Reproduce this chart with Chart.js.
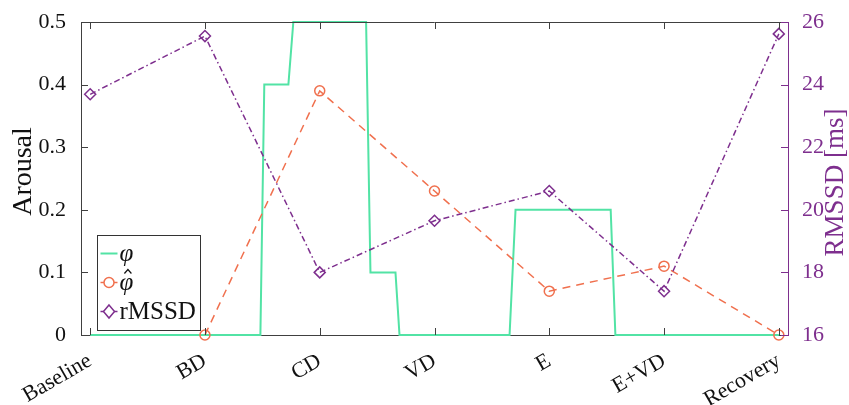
<!DOCTYPE html>
<html><head><meta charset="utf-8">
<script src="https://cdn.jsdelivr.net/npm/chart.js@4/dist/chart.umd.min.js"></script>
<style>html,body{margin:0;padding:0;background:#fff}#wrap{width:849px;height:405px;position:relative}</style>
</head><body><div id="wrap"><canvas id="c"></canvas></div>
<script>
// ---- data ----
const categories = ['Baseline','BD','CD','VD','E','E+VD','Recovery'];
// phi: step signal (x in category units)
const phiX = [0, 1.483, 1.517, 1.727, 1.77, 2.404, 2.442, 2.66, 2.695, 3.654, 3.706, 4.535, 4.576, 6];
const phiY = [0, 0, 0.4, 0.4, 0.5, 0.5, 0.1, 0.1, 0, 0, 0.2, 0.2, 0, 0];
// phi-hat per category (none at Baseline)
const phiHat = [null, 0, 0.39, 0.23, 0.07, 0.11, 0];
// rMSSD per category [ms]
const rmssd = [23.69, 25.55, 18.0, 19.65, 20.6, 17.4, 25.62];
const arousalTicks = [0, 0.1, 0.2, 0.3, 0.4, 0.5];
const rmssdTicks = [16, 18, 20, 22, 24, 26];

const GREEN = '#52e3a5', ORANGE = '#f0704e', PURPLE = '#7e2f8e', AX = '#404040';
const FONT = "'Liberation Serif', serif";
Chart.defaults.font.family = FONT;

const phiData = phiX.map((x, i) => ({x: x, y: phiY[i]}));
const hatData = phiHat.map((v, i) => ({x: i, y: v}));
const rmData = rmssd.map((v, i) => ({x: i, y: v}));

const framePlugin = {
  id: 'frame',
  afterDatasetsDraw(chart) {
    const ctx = chart.ctx, ca = chart.chartArea;
    const xs = chart.scales.x, ys = chart.scales.y, yr = chart.scales.y1;
    ctx.save();
    ctx.lineWidth = 1;
    ctx.strokeStyle = AX;
    ctx.beginPath();
    ctx.moveTo(ca.left, Math.round(ca.top) + 0.5);
    ctx.lineTo(ca.right, Math.round(ca.top) + 0.5);
    categories.forEach((c, i) => {
      const px = Math.round(xs.getPixelForValue(i)) + 0.5;
      ctx.moveTo(px, ca.bottom); ctx.lineTo(px, ca.bottom - 7);
      ctx.moveTo(px, ca.top); ctx.lineTo(px, ca.top + 7);
    });
    arousalTicks.forEach(v => {
      const py = Math.round(ys.getPixelForValue(v)) + 0.5;
      ctx.moveTo(ca.left, py); ctx.lineTo(ca.left + 7, py);
    });
    ctx.stroke();
    ctx.strokeStyle = PURPLE;
    ctx.beginPath();
    rmssdTicks.forEach(v => {
      const py = Math.round(yr.getPixelForValue(v)) + 0.5;
      ctx.moveTo(ca.right, py); ctx.lineTo(ca.right - 7, py);
    });
    ctx.stroke();
    ctx.restore();
  },
  afterDraw(chart) {
    const ctx = chart.ctx, ca = chart.chartArea;
    ctx.save();
    // axis titles
    const midY = (ca.top + ca.bottom) / 2;
    ctx.textAlign = 'center'; ctx.textBaseline = 'middle';
    ctx.fillStyle = '#111';
    ctx.font = '28px ' + FONT;
    ctx.translate(24, midY - 7); ctx.rotate(-Math.PI / 2);
    ctx.fillText('Arousal', 0, 0);
    ctx.setTransform(1, 0, 0, 1, 0, 0);
    ctx.fillStyle = PURPLE;
    ctx.font = '27px ' + FONT;
    ctx.translate(836, midY + 4); ctx.rotate(-Math.PI / 2);
    ctx.fillText('RMSSD [ms]', 0, 0);
    ctx.setTransform(1, 0, 0, 1, 0, 0);
    // legend
    const bx = Math.round(ca.left) + 16.5, bw = 103, bh = 95;
    const by = Math.round(ca.bottom) - 4.5 - bh;
    ctx.fillStyle = '#fff';
    ctx.fillRect(bx, by, bw, bh);
    ctx.strokeStyle = '#333'; ctx.lineWidth = 1;
    ctx.strokeRect(bx, by, bw, bh);
    chart.data.datasets.forEach((ds, i) => {
      const ry = by + 18 + i * 29;
      const x0 = bx + 3, x1 = bx + 20, xm = (x0 + x1) / 2;
      ctx.strokeStyle = ds.borderColor;
      ctx.lineWidth = ds.borderWidth;
      ctx.setLineDash([]);
      ctx.beginPath(); ctx.moveTo(x0, ry); ctx.lineTo(x1, ry); ctx.stroke();
      if (ds.pointRadius > 0) {
        ctx.fillStyle = '#fff';
        ctx.lineWidth = 1.5;
        ctx.beginPath();
        const r = ds.pointRadius;
        if (ds.pointStyle === 'circle') {
          ctx.arc(xm, ry, r, 0, Math.PI * 2);
        } else {
          ctx.moveTo(xm, ry - r - 1); ctx.lineTo(xm + r, ry); ctx.lineTo(xm, ry + r + 1); ctx.lineTo(xm - r, ry); ctx.closePath();
        }
        ctx.fill(); ctx.stroke();
      }
      ctx.fillStyle = '#111';
      ctx.textAlign = 'left'; ctx.textBaseline = 'middle';
      const hat = ds.label.endsWith('\u0302');
      const txt = hat ? ds.label.slice(0, -1) : ds.label;
      ctx.font = (i < 2 ? 'italic ' : '') + '25px ' + FONT;
      const tx = x1 + 2;
      ctx.fillText(txt, tx, ry + 1);
      if (hat) {
        const w = ctx.measureText(txt).width;
        const cx = tx + w / 2 + 1.5;
        ctx.strokeStyle = '#111'; ctx.lineWidth = 1.2;
        ctx.beginPath();
        ctx.moveTo(cx - 3.5, ry - 9); ctx.lineTo(cx, ry - 13); ctx.lineTo(cx + 3.5, ry - 9);
        ctx.stroke();
      }
    });
    ctx.restore();
  }
};

new Chart(document.getElementById('c'), {
  type: 'line',
  data: {
    datasets: [
      {label: 'φ', data: phiData, borderColor: GREEN, backgroundColor: GREEN, borderWidth: 2, pointRadius: 0, yAxisID: 'y', order: 3, clip: false},
      {label: 'φ\u0302', data: hatData, borderColor: ORANGE, backgroundColor: 'rgba(0,0,0,0)', borderWidth: 1.5,
       borderDash: [8, 6], pointStyle: 'circle', pointRadius: 5, pointBorderWidth: 1.5, pointBackgroundColor: 'rgba(0,0,0,0)',
       pointBorderColor: ORANGE, yAxisID: 'y', order: 2, clip: false},
      {label: 'rMSSD', data: rmData, borderColor: PURPLE, backgroundColor: 'rgba(0,0,0,0)', borderWidth: 1.5,
       borderDash: [6, 3, 1.5, 3], pointStyle: 'rectRot', pointRadius: 5.5, pointBorderWidth: 1.5, pointBackgroundColor: 'rgba(0,0,0,0)',
       pointBorderColor: PURPLE, yAxisID: 'y1', order: 1, clip: false}
    ]
  },
  options: {
    responsive: true, maintainAspectRatio: false, animation: false,
    layout: {padding: {top: 22, left: 0, right: 0, bottom: 0}},
    plugins: {legend: {display: false}, tooltip: {enabled: false}},
    elements: {line: {tension: 0}},
    scales: {
      x: {
        type: 'linear', min: -0.08, max: 6.08,
        afterBuildTicks: s => { s.ticks = categories.map((c, i) => ({value: i})); },
        afterFit: s => { s.height = 70; },
        grid: {display: false},
        border: {display: true, color: AX, width: 1},
        ticks: {autoSkip: false, maxRotation: 30, minRotation: 30, padding: 5, color: '#111',
          font: {family: FONT, size: 22}, callback: v => categories[v]}
      },
      y: {
        position: 'left', min: 0, max: 0.5,
        afterBuildTicks: s => { s.ticks = arousalTicks.map(v => ({value: v})); },
        afterFit: s => { s.width = 81; },
        grid: {display: false},
        border: {display: true, color: AX, width: 1},
        ticks: {padding: 7, color: '#111', font: {family: FONT, size: 22}, callback: v => String(v)}
      },
      y1: {
        position: 'right', min: 16, max: 26,
        afterBuildTicks: s => { s.ticks = rmssdTicks.map(v => ({value: v})); },
        afterFit: s => { s.width = 61; },
        grid: {display: false},
        border: {display: true, color: PURPLE, width: 1},
        ticks: {padding: 6, color: PURPLE, font: {family: FONT, size: 22}, callback: v => String(v)}
      }
    }
  },
  plugins: [framePlugin]
});
</script>
</body></html>
